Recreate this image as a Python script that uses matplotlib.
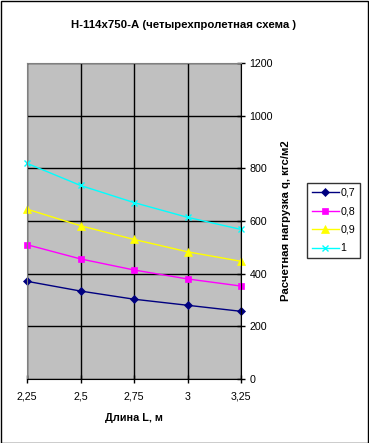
import matplotlib
matplotlib.use("Agg")
import matplotlib.pyplot as plt
from matplotlib.patches import Rectangle

plt.rcParams['font.family'] = ['Liberation Sans', 'DejaVu Sans']

lengths = ["2,25", "2,5", "2,75", "3", "3,25"]
s07 = [371, 334, 303, 280, 257]
s08 = [510, 456, 414, 380, 353]
s09 = [645, 582, 530, 483, 447]
s10 = [819, 735, 670, 614, 568]
series_names = ["0,7", "0,8", "0,9", "1"]

W, H = 369, 443
fig = plt.figure(figsize=(W/100, H/100), dpi=100)
fig.patches.append(Rectangle((0.5/W, 0.5/H), 1-1.5/W, 1-1.5/H, transform=fig.transFigure,
                             fill=False, edgecolor='black', linewidth=1))

left, right, top, bottom = 27, 241, 63, 379
ax = fig.add_axes([left/W, 1-bottom/H, (right-left)/W, (bottom-top)/H])
ax.set_facecolor('#C0C0C0')
x = list(range(len(lengths)))
styles = [
    (s07, '#000080', 'D', 4),
    (s08, '#FF00FF', 's', 5),
    (s09, '#FFFF00', '^', 6),
    (s10, '#00FFFF', 'x', 4),
]
lines = []
for (vals, c, m, ms), name in zip(styles, series_names):
    ln, = ax.plot(x, vals, color=c, marker=m, markersize=ms, linewidth=1, label=name,
                  markeredgewidth=1 if m == 'x' else 0.5, clip_on=False)
    lines.append(ln)

ax.set_xlim(0, 4)
ax.set_ylim(0, 1200)
ax.set_xticks(x)
ax.set_xticklabels(lengths)
ax.set_yticks(range(0, 1201, 200))
ax.yaxis.tick_right()
ax.yaxis.set_label_position('right')
ax.grid(True, color='black', linewidth=1)
ax.set_axisbelow(True)
for side in ['top', 'left']:
    ax.spines[side].set_color('#808080')
for side in ['bottom', 'right']:
    ax.spines[side].set_color('black')
ax.tick_params(axis='both', labelsize=7.7, length=3, color='black', width=1)
ax.tick_params(axis='x', direction='inout', length=6, pad=6)
ax.tick_params(axis='y', direction='inout', length=6, pad=3)

ax.set_xlabel("Длина L, м", fontsize=7.8, fontweight='bold', labelpad=8)
ax.set_ylabel("Расчетная нагрузка q, кгс/м2", fontsize=8.2, fontweight='bold', labelpad=6)
fig.text(184/W, 1-25/H, "Н-114х750-А (четырехпролетная схема )", ha='center', va='center',
         fontsize=8.2, fontweight='bold')

leg = fig.legend(handles=lines, loc='upper left', bbox_to_anchor=(307/W, 1-183/H),
                 fontsize=7.7, frameon=True, fancybox=False, edgecolor='black',
                 handlelength=2.5, borderpad=0.45, labelspacing=0.8, handletextpad=0.2,
                 borderaxespad=0)
leg.get_frame().set_linewidth(1)

fig.savefig("out.png", dpi=100)
